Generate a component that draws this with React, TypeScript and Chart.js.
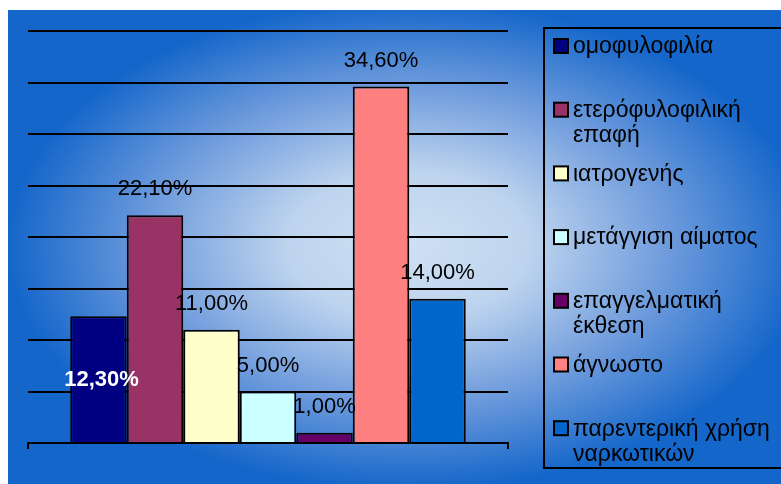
import React, { useEffect, useRef } from "react";
import { Chart, registerables } from "chart.js";

Chart.register(...registerables);

// ---- data ----
const categories = [""];
const seriesNames = [
  "ομοφυλοφιλία",
  "ετερόφυλοφιλική επαφή",
  "ιατρογενής",
  "μετάγγιση αίματος",
  "επαγγελματική έκθεση",
  "άγνωστο",
  "παρεντερική χρήση ναρκωτικών",
];
const legendLines = [
  ["ομοφυλοφιλία"],
  ["ετερόφυλοφιλική", "επαφή"],
  ["ιατρογενής"],
  ["μετάγγιση αίματος"],
  ["επαγγελματική", "έκθεση"],
  ["άγνωστο"],
  ["παρεντερική χρήση", "ναρκωτικών"],
];
const seriesValues = [12.3, 22.1, 11.0, 5.0, 1.0, 34.6, 14.0];
const seriesColors = ["#000080", "#993366", "#FFFFCC", "#CCFFFF", "#660066", "#FF8080", "#0066CC"];
const yMin = 0;
const yMax = 40;
const yStep = 5;

const FONT = "'Liberation Sans', Arial, sans-serif";

const fmt = (v: number) => v.toFixed(2).replace(".", ",") + "%";

const backgroundPlugin = {
  id: "bgGradient",
  beforeDraw(chart: any) {
    const { ctx, width, height } = chart;
    ctx.save();
    const cx = 400;
    const cy = 235;
    const rx = 400;
    const ry = 245;
    ctx.fillStyle = "rgb(20,102,202)";
    ctx.fillRect(0, 0, width, height);
    ctx.translate(cx, cy);
    ctx.scale(1, ry / rx);
    const g = ctx.createRadialGradient(0, 0, 0, 0, 0, rx);
    g.addColorStop(0, "rgb(206,224,243)");
    g.addColorStop(0.3, "rgb(190,212,238)");
    g.addColorStop(0.65, "rgb(110,155,220)");
    g.addColorStop(1, "rgb(20,102,202)");
    ctx.fillStyle = g;
    ctx.fillRect(-cx, -cy * (rx / ry), width, height * (rx / ry));
    ctx.restore();
  },
};

const barLabelPlugin = {
  id: "barLabels",
  afterDatasetsDraw(chart: any) {
    const ctx = chart.ctx;
    chart.data.datasets.forEach((ds: any, i: number) => {
      const meta = chart.getDatasetMeta(i);
      const el = meta.data[0];
      if (!el) return;
      const text = fmt(ds.data[0]);
      ctx.save();
      ctx.textAlign = "center";
      ctx.textBaseline = "middle";
      if (i === 0) {
        ctx.font = `bold 22px ${FONT}`;
        ctx.fillStyle = "#ffffff";
        ctx.fillText(text, el.x + 3, el.y + 64);
      } else {
        ctx.font = `22px ${FONT}`;
        ctx.fillStyle = "#000000";
        ctx.fillText(text, el.x, el.y - 26);
      }
      ctx.restore();
    });
  },
};

const legendPlugin = {
  id: "boxLegend",
  afterDraw(chart: any) {
    const ctx = chart.ctx;
    const left = 536;
    const top = 18;
    const bottom = 458;
    ctx.save();
    ctx.strokeStyle = "#000";
    ctx.lineWidth = 2;
    ctx.strokeRect(left, top, chart.width - left + 10, bottom - top);
    const step = 63.7;
    ctx.font = `23px ${FONT}`;
    ctx.textBaseline = "middle";
    ctx.textAlign = "left";
    chart.data.datasets.forEach((ds: any, i: number) => {
      const y = top + 18 + i * step;
      ctx.fillStyle = ds.backgroundColor;
      ctx.fillRect(546, y - 7, 14, 14);
      ctx.lineWidth = 2;
      ctx.strokeStyle = "#000";
      ctx.strokeRect(546, y - 7, 14, 14);
      ctx.fillStyle = "#000";
      legendLines[i].forEach((line, j) => {
        ctx.fillText(line, 565, y + 1 + j * 25);
      });
    });
    ctx.restore();
  },
};

export default function App() {
  const ref = useRef<HTMLCanvasElement | null>(null);
  useEffect(() => {
    if (!ref.current) return;
    const chart = new Chart(ref.current, {
      type: "bar",
      data: {
        labels: categories,
        datasets: seriesNames.map((name, i) => ({
          label: name,
          data: [seriesValues[i]],
          backgroundColor: seriesColors[i],
          borderColor: "#000000",
          borderWidth: 2,
          categoryPercentage: 0.824,
          barPercentage: 1,
        })),
      },
      options: {
        animation: false,
        responsive: false,
        layout: { padding: { left: 20, right: 273, top: 21, bottom: 35 } },
        plugins: {
          legend: { display: false },
          tooltip: { enabled: false },
          title: { display: false },
        },
        scales: {
          x: {
            offset: true,
            ticks: { display: false },
            grid: {
              display: true,
              drawOnChartArea: false,
              drawTicks: true,
              tickLength: 6,
              color: "#000",
              lineWidth: 2,
            },
            border: { display: true, color: "#000", width: 2 },
          },
          y: {
            min: yMin,
            max: yMax,
            ticks: { display: false, stepSize: yStep },
            grid: { color: "#000", lineWidth: 2, drawTicks: false },
            border: { display: false },
          },
        },
      },
      plugins: [backgroundPlugin, barLabelPlugin, legendPlugin],
    });
    return () => chart.destroy();
  }, []);

  return (
    <div style={{ position: "absolute", left: 8, top: 10, width: 773, height: 474 }}>
      <canvas ref={ref} width={773} height={474} style={{ display: "block" }} />
    </div>
  );
}
